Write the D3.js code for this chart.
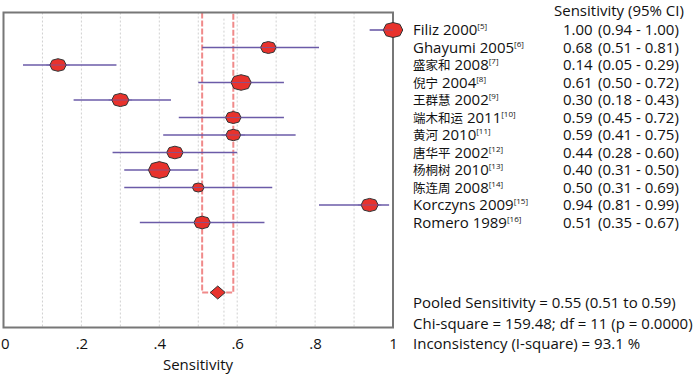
<!DOCTYPE html>
<html lang="zh">
<head>
<meta charset="UTF-8">
<title>Forest plot - Sensitivity</title>
<script src="https://d3js.org/d3.v7.min.js"></script>
<style>
* { font-family: 'Open Sans', 'Noto Sans CJK SC', sans-serif; }
body { margin: 0; background: #fff; }
svg { display: block; }
.grid { stroke: #d0d0d0; stroke-width: 1; stroke-dasharray: 2,2; }
.ci { stroke: #6b5ba8; stroke-width: 1.6; }
.mark { fill: #e8322c; stroke: #333; stroke-width: 1; }
.pool { stroke: #f08a8a; stroke-width: 2; fill: none; stroke-dasharray: 6,2; }
.txt { font-size: 15px; fill: #111; }
.cjk { font-size: 12.5px; }
.sup { font-size: 8px; }
</style>
</head>
<body>
<svg id="canvas"></svg>
<script>
let studies = ['Filiz 2000', 'Ghayumi 2005', '盛家和 2008', '倪宁 2004', '王群慧 2002', '端木和运 2011',
               '黄河 2010', '唐华平 2002', '杨桐树 2010', '陈连周 2008', 'Korczyns 2009', 'Romero 1989']
let refs = ['[5]', '[6]', '[7]', '[8]', '[9]', '[10]', '[11]', '[12]', '[13]', '[14]', '[15]', '[16]']
let sens = [1.00, 0.68, 0.14, 0.61, 0.30, 0.59, 0.59, 0.44, 0.40, 0.50, 0.94, 0.51]
let lower = [0.94, 0.51, 0.05, 0.50, 0.18, 0.45, 0.41, 0.28, 0.31, 0.31, 0.81, 0.35]
let upper = [1.00, 0.81, 0.29, 0.72, 0.43, 0.72, 0.75, 0.60, 0.50, 0.69, 0.99, 0.67]
let weights = [1.25, 1.0, 1.05, 1.3, 1.1, 1.0, 0.95, 1.05, 1.4, 0.75, 1.1, 1.05]
let pooled = [0.55, 0.51, 0.59]
let refLine = 0.566
let xTicks = [0, 0.2, 0.4, 0.6, 0.8, 1]
let gridTicks = [0.1, 0.2, 0.3, 0.4, 0.5, 0.6, 0.7, 0.8, 0.9]
let footer = ['Pooled Sensitivity = 0.55 (0.51 to 0.59)',
              'Chi-square = 159.48; df = 11 (p = 0.0000)',
              'Inconsistency (I-square) = 93.1 %']

let width = 700
let height = 374

let svg = d3.select('svg').attr('width', width).attr('height', height)

let xScale = d3.scaleLinear().domain([0, 1]).range([3.5, 393])
let yScale = d3.scaleLinear().domain([-1, 17]).range([12.5, 327.5])
let sizeScale = d3.scaleLinear().domain([0, 1]).range([0, 12])
let pooledRow = 15
let fmt = d3.format('.2f')

// grid
svg.selectAll('.grid')
    .data(gridTicks)
    .enter()
    .append('line')
    .attr('class', 'grid')
    .attr('x1', d => xScale(d)).attr('x2', d => xScale(d))
    .attr('y1', yScale(-1)).attr('y2', yScale(17))

svg.append('line')
    .attr('class', 'grid')
    .attr('x1', xScale(refLine)).attr('x2', xScale(refLine))
    .attr('y1', yScale(-0.65)).attr('y2', yScale(17))

// pooled CI bracket
svg.append('path')
    .attr('class', 'pool')
    .attr('d', d3.line()([
        [xScale(pooled[1]), yScale(-1)],
        [xScale(pooled[1]), yScale(pooledRow)],
        [xScale(pooled[2]), yScale(pooledRow)],
        [xScale(pooled[2]), yScale(-1)]
    ]))

// box
svg.append('rect')
    .attr('x', xScale(0)).attr('y', yScale(-1))
    .attr('width', xScale(1) - xScale(0))
    .attr('height', yScale(17) - yScale(-1))
    .attr('fill', 'none')
    .attr('stroke', '#777')
    .attr('stroke-width', 2)

// CI lines
svg.selectAll('.ci')
    .data(studies)
    .enter()
    .append('line')
    .attr('class', 'ci')
    .attr('x1', (d, i) => xScale(lower[i]))
    .attr('x2', (d, i) => xScale(upper[i]))
    .attr('y1', (d, i) => yScale(i))
    .attr('y2', (d, i) => yScale(i))

// markers (octagons)
let octagon = (cx, cy, rx, ry) => {
    let pts = d3.range(8).map(k => {
        let a = k * Math.PI / 4
        return [cx + rx * Math.cos(a), cy + ry * Math.sin(a) * (k % 2 ? 1.08 : 1)]
    })
    return d3.line()(pts) + 'Z'
}

svg.selectAll('.mark')
    .data(studies)
    .enter()
    .append('path')
    .attr('class', 'mark')
    .attr('d', (d, i) => {
        let w = sizeScale(weights[i])
        return octagon(xScale(sens[i]), yScale(i), w * 0.65, w * 0.5)
    })

// pooled diamond
let py = yScale(pooledRow)
let px = xScale(pooled[0])
svg.append('path')
    .attr('class', 'mark')
    .attr('d', d3.line()([[px - 7.5, py], [px, py - 6.5], [px + 7.5, py], [px, py + 6.5]]) + 'Z')

// ci line over markers
svg.selectAll('.ci2')
    .data(studies)
    .enter()
    .append('line')
    .attr('stroke', '#6b5ba8')
    .attr('stroke-width', 1)
    .attr('opacity', 0.7)
    .attr('x1', (d, i) => xScale(Math.max(lower[i], sens[i] - 0.03)))
    .attr('x2', (d, i) => xScale(Math.min(upper[i], sens[i] + 0.03)))
    .attr('y1', (d, i) => yScale(i))
    .attr('y2', (d, i) => yScale(i))

// x axis
let xAxis = d3.axisBottom(xScale)
    .tickValues(xTicks)
    .tickSize(0)
    .tickPadding(11)
    .tickFormat(d => d === 0 ? '0' : d === 1 ? '1' : d3.format('.1f')(d).replace(/^0/, ''))

let gx = svg.append('g')
    .attr('transform', 'translate(0,' + yScale(17) + ')')
    .call(xAxis)
gx.select('.domain').remove()
gx.selectAll('text').attr('font-size', 15).attr('fill', '#111')
    .style('font-family', "'Open Sans', sans-serif")
gx.selectAll('.tick').filter(d => d === 0).select('text').attr('text-anchor', 'start').attr('x', -3)

svg.append('text')
    .attr('class', 'txt')
    .attr('x', 198).attr('y', 370)
    .attr('text-anchor', 'middle')
    .text('Sensitivity')

// header
svg.append('text')
    .attr('class', 'txt')
    .attr('x', 554).attr('y', 16)
    .text('Sensitivity (95% CI)')

// study labels: CJK names a bit smaller, like the original
let labels = svg.selectAll('.lab')
    .data(studies)
    .enter()
    .append('text')
    .attr('class', 'txt')
    .attr('x', 413)
    .attr('y', (d, i) => yScale(i) + 5)

labels.each(function (d, i) {
    let t = d3.select(this)
    let m = d.match(/^([\u4e00-\u9fff]+)(.*)$/)
    if (m) {
        t.append('tspan').attr('class', 'cjk').text(m[1])
        t.append('tspan').text(m[2])
    } else {
        t.append('tspan').text(d)
    }
    t.append('tspan')
        .attr('class', 'sup')
        .attr('dy', -6)
        .text(refs[i])
})

svg.selectAll('.val')
    .data(studies)
    .enter()
    .append('text')
    .attr('class', 'txt')
    .attr('x', 563)
    .attr('y', (d, i) => yScale(i) + 5)
    .text((d, i) => fmt(sens[i]))

svg.selectAll('.cit')
    .data(studies)
    .enter()
    .append('text')
    .attr('class', 'txt')
    .attr('x', 598)
    .attr('y', (d, i) => yScale(i) + 5)
    .text((d, i) => '(' + fmt(lower[i]) + ' - ' + fmt(upper[i]) + ')')

// footer
svg.selectAll('.foot')
    .data(footer)
    .enter()
    .append('text')
    .attr('class', 'txt')
    .attr('x', 413)
    .attr('y', (d, i) => 308 + i * 20.5)
    .text(d => d)
</script>
</body>
</html>
